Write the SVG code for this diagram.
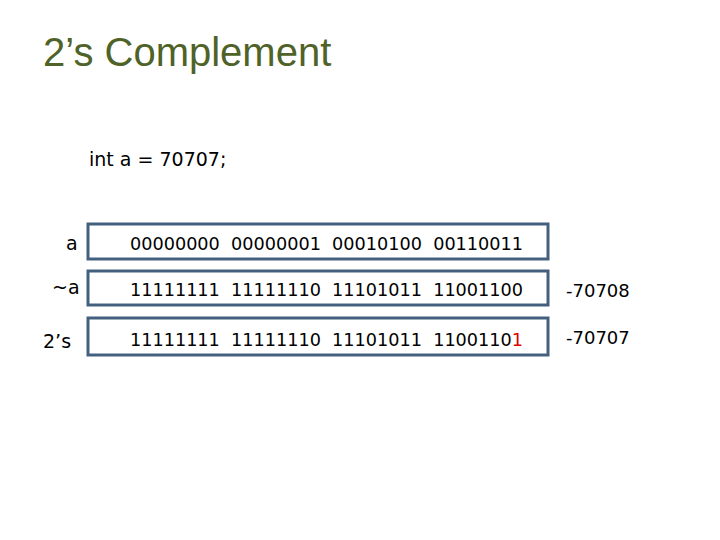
<svg xmlns="http://www.w3.org/2000/svg" width="720" height="540" viewBox="0 0 720 540">
<style>
.b{fill:#fff;stroke:#44607f;stroke-width:3}
.t{font-family:"DejaVu Sans",sans-serif;font-size:18px;fill:#000}
.l{font-family:"DejaVu Sans",sans-serif;font-size:19px;fill:#000}
</style>
<rect width="720" height="540" fill="#fff"/>
<text x="43" y="66" font-family="Liberation Sans,Arial,sans-serif" font-size="40" fill="#4f6228">2’s Complement</text>
<text x="89" y="166" class="l">int a = 70707;</text>
<g id="row-a"><rect class="b" x="88" y="224" width="460" height="35"/>
<text x="66" y="250" class="l">a</text>
<text x="130" y="250" class="t" textLength="393" lengthAdjust="spacingAndGlyphs" xml:space="preserve">00000000  00000001  00010100  00110011</text></g>
<g id="row-nota"><rect class="b" x="88" y="271" width="460" height="34"/>
<text x="52" y="294" class="l">~a</text>
<text x="130" y="296" class="t" textLength="393" lengthAdjust="spacingAndGlyphs" xml:space="preserve">11111111  11111110  11101011  11001100</text>
<text x="566" y="297" class="t">-70708</text></g>
<g id="row-2s"><rect class="b" x="88" y="318" width="460" height="37"/>
<text x="43" y="348" class="l">2’s</text>
<text x="130" y="346" class="t" textLength="393" lengthAdjust="spacingAndGlyphs" xml:space="preserve">11111111  11111110  11101011  1100110<tspan fill="#e00000">1</tspan></text>
<text x="566" y="344" class="t">-70707</text></g>
<g id="connectors"/>
</svg>
